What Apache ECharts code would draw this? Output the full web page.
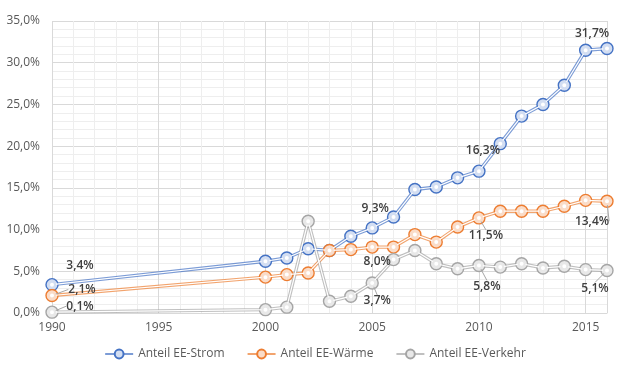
<!DOCTYPE html>
<html>
<head>
<meta charset="utf-8">
<script src="https://cdn.jsdelivr.net/npm/echarts@6/dist/echarts.min.js"></script>
<style>html,body{margin:0;padding:0;background:#fff}#c{width:630px;height:378px}</style>
</head>
<body>
<div id="c"></div>
<script>
var years = [1990, 2000, 2001, 2002, 2003, 2004, 2005, 2006, 2007, 2008, 2009, 2010, 2011, 2012, 2013, 2014, 2015, 2016];
var strom = [3.4, 6.2, 6.6, 7.7, 7.5, 9.2, 10.2, 11.5, 14.8, 15.1, 16.2, 17.0, 20.3, 23.6, 25.0, 27.3, 31.5, 31.7];
var waerme = [2.1, 4.3, 4.6, 4.8, 7.5, 7.6, 7.9, 7.9, 9.4, 8.5, 10.3, 11.4, 12.2, 12.2, 12.2, 12.8, 13.5, 13.4];
var verkehr = [0.1, 0.4, 0.7, 11.0, 1.4, 2.0, 3.6, 6.4, 7.5, 5.9, 5.3, 5.7, 5.5, 5.9, 5.4, 5.6, 5.2, 5.1];
var stromLabels = {1990: '3,4%', 2005: '9,3%', 2010: '16,3%', 2016: '31,7%'};
var waermeLabels = {1990: '2,1%', 2005: '8,0%', 2010: '11,5%', 2016: '13,4%'};
var verkehrLabels = {1990: '0,1%', 2005: '3,7%', 2010: '5,8%', 2016: '5,1%'};
var seriesNames = ['Anteil EE-Strom', 'Anteil EE-Wärme', 'Anteil EE-Verkehr'];
var yTicks = [0, 5, 10, 15, 20, 25, 30, 35];

var colors = ['#4472C4', '#ED7D31', '#A5A5A5'];
var tints = ['#d3def2', '#fadcc8', '#e8e8e8'];
// label placement (styling only)
var offsets = [
  {1990: [28, -19], 2005: [3, -19], 2010: [4, -21], 2016: [-15, -15]},
  {1990: [30, -6], 2005: [5, 14], 2010: [7, 18], 2016: [-15, 20]},
  {1990: [28, -6], 2005: [5, 18], 2010: [8, 21], 2016: [-12, 18]}
];
var guides = [
  {},
  {1990: true, 2010: true, 2016: true},
  {1990: true, 2005: true, 2010: true, 2016: true}
];
var allVals = [strom, waerme, verkehr];
var allLabels = [stromLabels, waermeLabels, verkehrLabels];

function pairs(vals, si, withLabels) {
  return years.map(function (y, i) {
    var d = {value: [y, vals[i]]};
    if (withLabels && allLabels[si][y]) {
      d.label = {show: true, formatter: allLabels[si][y]};
      d.labelLine = {show: !!guides[si][y]};
    }
    return d;
  });
}

var series = [];
for (var s = 0; s < 3; s++) {
  series.push({
    name: seriesNames[s], type: 'line', z: 2,
    data: pairs(allVals[s], s, false),
    symbol: 'circle', symbolSize: 12,
    lineStyle: {color: colors[s], width: 3.4, opacity: 0.7},
    itemStyle: {color: tints[s], borderColor: colors[s], borderWidth: 1.4},
    emphasis: {disabled: true}, animation: false
  });
}
for (var s2 = 0; s2 < 3; s2++) {
  (function (si) {
    series.push({
      name: seriesNames[si], type: 'line', z: 3,
      data: pairs(allVals[si], si, true),
      symbol: 'emptyCircle', symbolSize: 6,
      lineStyle: {color: '#ffffff', width: 1.2},
      itemStyle: {color: tints[si], borderColor: colors[si], borderWidth: 1.3},
      label: {show: false, position: 'inside', color: '#404040', fontSize: 12, fontFamily: 'Open Sans', fontWeight: 600},
      labelLine: {show: false, lineStyle: {color: '#a6a6a6', width: 1}},
      labelLayout: function (p) {
        var y = years[p.dataIndex];
        var o = offsets[si][y] || [0, 0];
        return {dx: o[0], dy: o[1]};
      },
      emphasis: {disabled: true}, animation: false
    });
  })(s2);
}

var chart = echarts.init(document.getElementById('c'), null, {renderer: 'canvas'});
chart.setOption({
  backgroundColor: '#ffffff',
  animation: false,
  grid: {left: 52, right: 23, top: 21, bottom: 65, containLabel: false},
  legend: {
    data: seriesNames, bottom: 13, left: 'center', itemWidth: 28, itemHeight: 11, itemGap: 22,
    textStyle: {color: '#595959', fontSize: 12, fontFamily: 'Open Sans'}
  },
  xAxis: {
    type: 'value', min: 1990, max: 2016, interval: 5,
    axisLine: {show: true, lineStyle: {color: '#d9d9d9'}},
    axisTick: {show: false},
    axisLabel: {color: '#595959', fontSize: 12, fontFamily: 'Open Sans', margin: 9, showMaxLabel: false,
      formatter: function (v) { return String(v); }},
    splitLine: {show: true, lineStyle: {color: '#d9d9d9'}},
    minorTick: {show: false, splitNumber: 5},
    minorSplitLine: {show: true, lineStyle: {color: '#eeeeee'}}
  },
  yAxis: {
    type: 'value', min: 0, max: 35, interval: 5,
    axisLine: {show: false}, axisTick: {show: false},
    axisLabel: {color: '#595959', fontSize: 12, fontFamily: 'Open Sans', margin: 12,
      formatter: function (v) { return yTicks.indexOf(v) >= 0 ? v.toFixed(1).replace('.', ',') + '%' : ''; }},
    splitLine: {show: true, lineStyle: {color: '#d9d9d9'}},
    minorTick: {show: false, splitNumber: 5},
    minorSplitLine: {show: true, lineStyle: {color: '#eeeeee'}}
  },
  series: series
});
</script>
</body>
</html>
